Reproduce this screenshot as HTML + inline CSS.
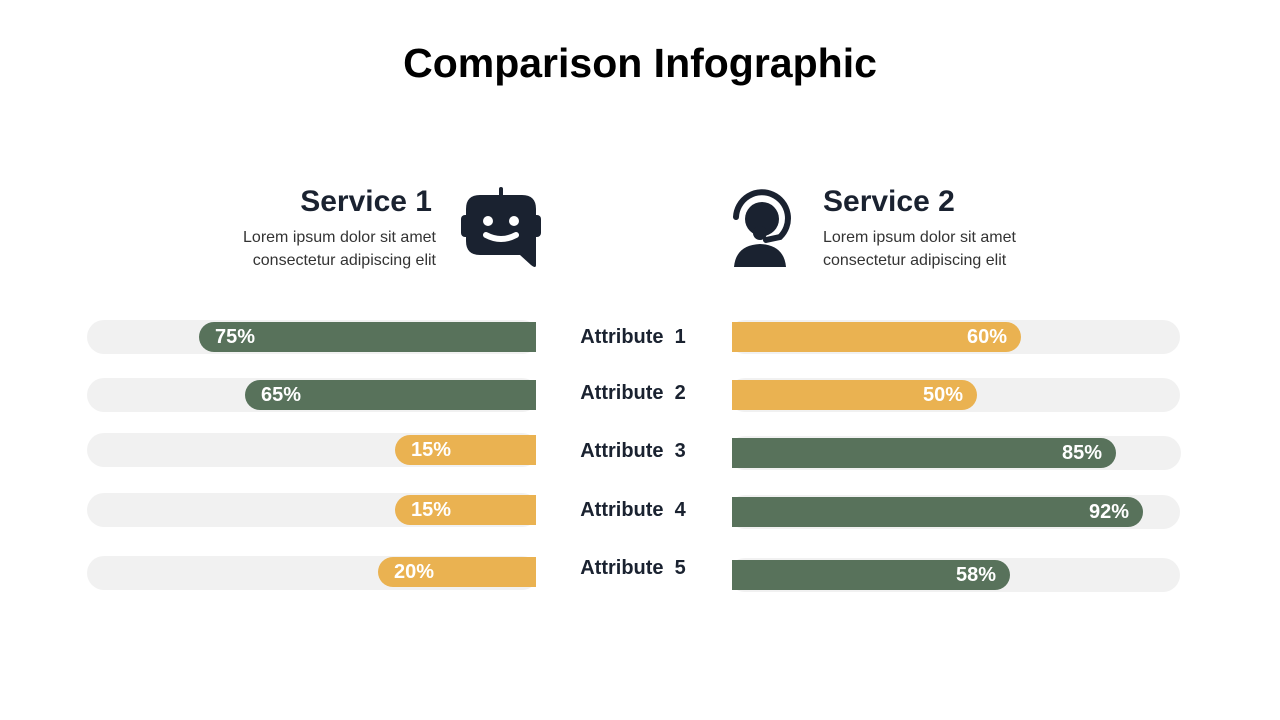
<!DOCTYPE html>
<html><head><style>
body{margin:0;width:1280px;height:720px;background:#fff;font-family:"Liberation Sans",sans-serif;position:relative;overflow:hidden;color:#1a2230}
div{position:absolute;box-sizing:border-box}
.tr{background:#f1f1f1;border-radius:17px}
.f{border-radius:16px;color:#fff;font-weight:bold;font-size:20px;line-height:30px}
.g{background:#58725b}.y{background:#eab251}
.l{border-radius:16px 0 0 16px;padding-left:16px}
.r{border-radius:0 16px 16px 0;text-align:right;padding-right:14px}
.at{left:560px;width:146px;text-align:center;font-size:20px;font-weight:bold;color:#1a2230}
.h{font-size:30px;font-weight:bold;color:#1a2230}
.p{font-size:16px;line-height:23px;color:#333}
</style></head><body>
<div style="left:0;width:1280px;top:40px;text-align:center;font-size:41px;font-weight:bold;color:#000">Comparison Infographic</div>

<div class="h" style="right:848px;top:185px">Service 1</div>
<div class="p" style="right:844px;top:226px;text-align:right">Lorem ipsum dolor sit amet<br>consectetur adipiscing elit</div>
<div class="h" style="left:823px;top:185px">Service 2</div>
<div class="p" style="left:823px;top:226px">Lorem ipsum dolor sit amet<br>consectetur adipiscing elit</div>

<svg style="position:absolute;left:460px;top:187px" width="82" height="82" viewBox="0 0 82 82">
<rect x="39" y="0" width="4" height="10" rx="2" fill="#1a2230"/>
<rect x="1" y="28" width="10" height="22" rx="4" fill="#1a2230"/>
<rect x="71" y="28" width="10" height="22" rx="4" fill="#1a2230"/>
<path d="M20 8 H62 Q76 8 76 22 V78 Q76 82 71 78 L60 68 H20 Q6 68 6 54 V22 Q6 8 20 8Z" fill="#1a2230"/>
<circle cx="28" cy="34" r="5" fill="#fff"/><circle cx="54" cy="34" r="5" fill="#fff"/>
<path d="M26 48 Q41 56 56 48" stroke="#fff" stroke-width="6" fill="none" stroke-linecap="round"/>
</svg>
<svg style="position:absolute;left:728px;top:187px" width="68" height="82" viewBox="0 0 68 82">
<path d="M8 30 A26 26 0 1 1 52 50 L38 53" stroke="#1a2230" stroke-width="6" fill="none" stroke-linecap="round"/>
<circle cx="34" cy="32" r="17" fill="#1a2230"/>
<circle cx="32" cy="46" r="7" fill="#1a2230"/>
<path d="M6 80 Q8 58 32 57 Q56 58 58 80Z" fill="#1a2230"/>
</svg>

<div class="tr" style="left:87px;top:320px;width:452px;height:34px"></div>
<div class="tr" style="left:87px;top:378px;width:452px;height:34px"></div>
<div class="tr" style="left:87px;top:433px;width:452px;height:34px"></div>
<div class="tr" style="left:87px;top:493px;width:452px;height:34px"></div>
<div class="tr" style="left:87px;top:556px;width:452px;height:34px"></div>
<div style="left:536px;top:300px;width:10px;height:300px;background:#fff"></div>
<div class="f g l" style="left:199px;top:322px;width:337px;height:30px">75%</div>
<div class="f g l" style="left:245px;top:380px;width:291px;height:30px">65%</div>
<div class="f y l" style="left:395px;top:435px;width:141px;height:30px">15%</div>
<div class="f y l" style="left:395px;top:495px;width:141px;height:30px">15%</div>
<div class="f y l" style="left:378px;top:557px;width:158px;height:30px">20%</div>

<div class="tr" style="left:728px;top:320px;width:452px;height:34px"></div>
<div class="tr" style="left:728px;top:378px;width:452px;height:34px"></div>
<div class="tr" style="left:728px;top:436px;width:453px;height:34px"></div>
<div class="tr" style="left:728px;top:495px;width:452px;height:34px"></div>
<div class="tr" style="left:728px;top:558px;width:452px;height:34px"></div>
<div style="left:722px;top:300px;width:10px;height:300px;background:#fff"></div>
<div class="f y r" style="left:732px;top:322px;width:289px;height:30px">60%</div>
<div class="f y r" style="left:732px;top:380px;width:245px;height:30px">50%</div>
<div class="f g r" style="left:732px;top:438px;width:384px;height:30px">85%</div>
<div class="f g r" style="left:732px;top:497px;width:411px;height:30px">92%</div>
<div class="f g r" style="left:732px;top:560px;width:278px;height:30px">58%</div>

<div class="at" style="top:326px">Attribute&nbsp; 1</div>
<div class="at" style="top:382px">Attribute&nbsp; 2</div>
<div class="at" style="top:440px">Attribute&nbsp; 3</div>
<div class="at" style="top:499px">Attribute&nbsp; 4</div>
<div class="at" style="top:557px">Attribute&nbsp; 5</div>
</body></html>
